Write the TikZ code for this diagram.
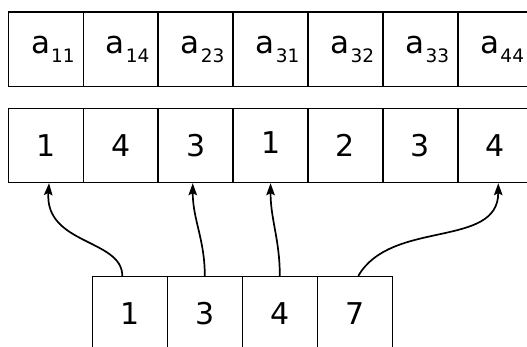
\documentclass[tikz,border=0pt]{standalone}
\usepackage{fontspec}
\setmainfont{DejaVu Sans}
\usetikzlibrary{arrows.meta}
\begin{document}
\begin{tikzpicture}[x=1pt,y=1pt,
  acell/.style={draw, line width=1.6pt, minimum width=74.9pt, minimum height=74.9pt, inner sep=0pt, font=\fontsize{31}{31}\selectfont},
  mcell/.style={draw, line width=1.6pt, minimum width=74.9pt, minimum height=74pt, inner sep=0pt, text height=21.6pt, text depth=0pt, font=\fontsize{30}{30}\selectfont},
  bcell/.style={draw, line width=1.6pt, minimum width=75pt, minimum height=75pt, inner sep=0pt, text height=21.6pt, text depth=0pt, font=\fontsize{30}{30}\selectfont},
  arr/.style={line width=1.7pt, -{Stealth[length=12pt,width=8.5pt,inset=2pt,fill=black]}}]
\useasboundingbox (0,0) rectangle (527,347);
\clip (0,0) rectangle (527,347);
% top row
\foreach \s [count=\i] in {11,14,23,31,32,33,44}
  \node[acell] (t\i) at ({45.85+74.9*(\i-1)},297.75) {\hspace*{14pt}a\kern1pt\raisebox{-9pt}{\fontsize{18.5}{18.5}\selectfont\s}};
% middle row
\foreach \v [count=\i] in {1,4,3,\raisebox{2.5pt}{1},2,3,4}
  \node[mcell] (m\i) at ({45.85+74.9*(\i-1)},201.6) {\v};
% bottom row
\foreach \v [count=\i] in {1,3,4,7}
  \node[bcell] (b\i) at ({129.8+75*(\i-1)},32.8) {\v};
% arrows
\draw[arr] ([xshift=-7.5pt]b1.north) to[out=90,in=-94,out distance=37pt,in distance=62pt] ([xshift=3.2pt]m1.south);
\draw[arr] (b2.north) to[out=90,in=-90] ([xshift=-2.9pt]m3.south);
\draw[arr] (b3.north) to[out=90,in=-90] (m4.south);
\draw[arr] ([xshift=3.5pt]b4.north) to[out=60,in=-90] ([xshift=3pt]m7.south);
\end{tikzpicture}
\end{document}
